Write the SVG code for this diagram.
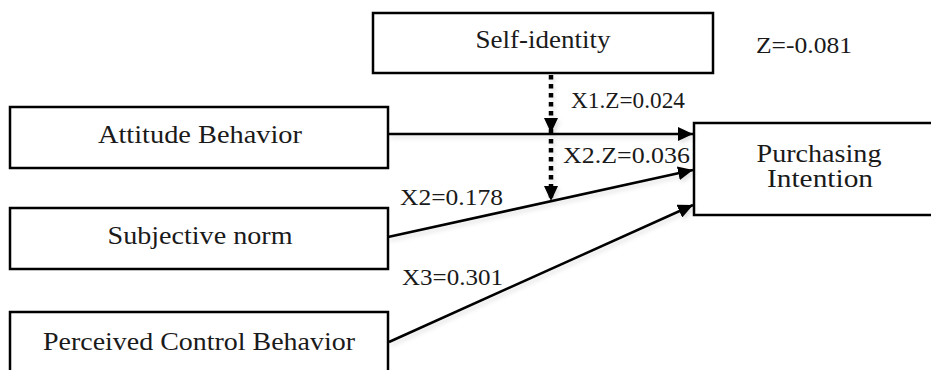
<svg xmlns="http://www.w3.org/2000/svg" width="931" height="370" viewBox="0 0 931 370">
<style>
.box{fill:#fff;stroke:#000;stroke-width:2.5}
.ln{fill:none;stroke:#000;stroke-width:2.5}
.dot{fill:none;stroke:#000;stroke-width:4.5;stroke-dasharray:4.5 4.5}
</style>
<defs>
<marker id="ah" markerUnits="userSpaceOnUse" markerWidth="16" markerHeight="14" refX="15" refY="7" orient="auto">
<path d="M0,0 L15,7 L0,14 Z" fill="#000"/>
</marker>
<filter id="sh" x="-5%" y="-20%" width="110%" height="160%">
<feDropShadow dx="2" dy="3" stdDeviation="2" flood-color="#000" flood-opacity="0.12"/>
</filter>
</defs>
<g font-family="Liberation Serif, Times New Roman, serif" font-size="25" fill="#1a1a1a" text-anchor="middle">
<g id="self-identity"><rect class="box" x="373" y="13" width="340" height="60"/><text x="543" y="48" textLength="135" lengthAdjust="spacingAndGlyphs">Self-identity</text></g>
<g id="attitude"><rect class="box" x="10" y="107" width="378" height="61"/><text x="200" y="143" textLength="204" lengthAdjust="spacingAndGlyphs">Attitude Behavior</text></g>
<g id="subjective"><rect class="box" x="10" y="208" width="378" height="61"/><text x="200" y="244" textLength="185" lengthAdjust="spacingAndGlyphs">Subjective norm</text></g>
<g id="perceived"><rect class="box" x="10" y="312" width="378" height="70"/><text x="199" y="350" textLength="312" lengthAdjust="spacingAndGlyphs">Perceived Control Behavior</text></g>
<g id="purchasing"><rect class="box" x="694" y="123" width="250" height="92"/><text x="819" y="162" textLength="125" lengthAdjust="spacingAndGlyphs">Purchasing</text><text x="820" y="187" textLength="106" lengthAdjust="spacingAndGlyphs">Intention</text></g>
</g>
<g id="connectors" filter="url(#sh)">
<line class="ln" x1="388" y1="134" x2="693" y2="134" marker-end="url(#ah)"/>
<line class="ln" x1="388" y1="237" x2="693" y2="170" marker-end="url(#ah)"/>
<line class="ln" x1="389" y1="342" x2="693" y2="205" marker-end="url(#ah)"/>
<line class="dot" x1="551" y1="75" x2="551" y2="133" marker-end="url(#ah)"/>
<line class="dot" x1="551" y1="139" x2="551" y2="201" marker-end="url(#ah)"/>
</g>
<g id="labels" font-family="Liberation Serif, Times New Roman, serif" font-size="24" fill="#1a1a1a">
<text x="756" y="53" textLength="96" lengthAdjust="spacingAndGlyphs">Z=-0.081</text>
<text x="571" y="108" textLength="114" lengthAdjust="spacingAndGlyphs">X1.Z=0.024</text>
<text x="563" y="163" textLength="127" lengthAdjust="spacingAndGlyphs">X2.Z=0.036</text>
<text x="400" y="205" textLength="103" lengthAdjust="spacingAndGlyphs">X2=0.178</text>
<text x="402" y="285" textLength="101" lengthAdjust="spacingAndGlyphs">X3=0.301</text>
</g>
</svg>
